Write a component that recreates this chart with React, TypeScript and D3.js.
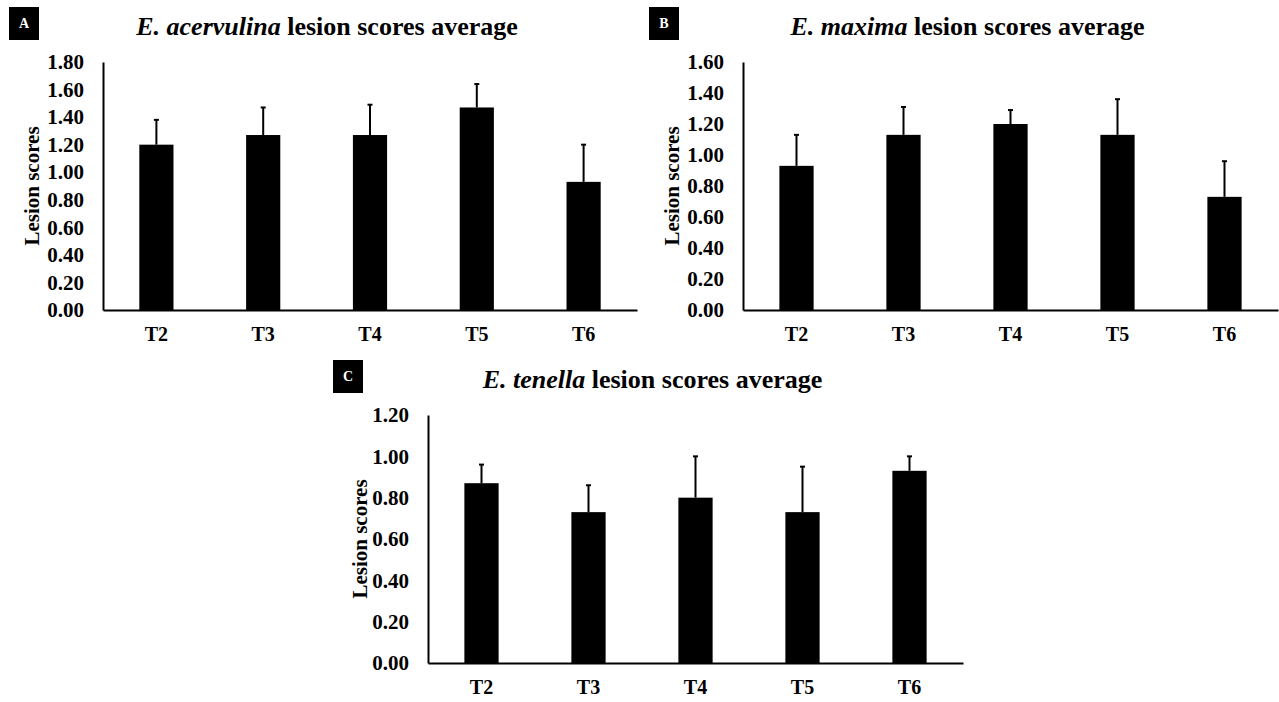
import React, { useRef, useEffect } from 'react';
import * as d3 from 'd3';

const categories = ['T2', 'T3', 'T4', 'T5', 'T6'];

const acervulinaMeans = [1.2, 1.27, 1.27, 1.47, 0.93];
const acervulinaErrors = [0.18, 0.2, 0.22, 0.17, 0.27];

const maximaMeans = [0.93, 1.13, 1.2, 1.13, 0.73];
const maximaErrors = [0.2, 0.18, 0.09, 0.23, 0.23];

const tenellaMeans = [0.87, 0.73, 0.8, 0.73, 0.93];
const tenellaErrors = [0.09, 0.13, 0.2, 0.22, 0.07];

const acervulinaTicks = [0, 0.2, 0.4, 0.6, 0.8, 1.0, 1.2, 1.4, 1.6, 1.8];
const maximaTicks = [0, 0.2, 0.4, 0.6, 0.8, 1.0, 1.2, 1.4, 1.6];
const tenellaTicks = [0, 0.2, 0.4, 0.6, 0.8, 1.0, 1.2];

const FONT = '"Liberation Serif", "Times New Roman", serif';

const panels = [
    { letter: 'A', species: 'E. acervulina', means: acervulinaMeans, errors: acervulinaErrors, ticks: acervulinaTicks,
      left: 103, right: 637, bottom: 310, top: 62, box: [9, 7], labelOffset: 64 },
    { letter: 'B', species: 'E. maxima', means: maximaMeans, errors: maximaErrors, ticks: maximaTicks,
      left: 743, right: 1278, bottom: 310, top: 62, box: [649, 7], labelOffset: 64 },
    { letter: 'C', species: 'E. tenella', means: tenellaMeans, errors: tenellaErrors, ticks: tenellaTicks,
      left: 428, right: 963, bottom: 663, top: 415, box: [333, 360], labelOffset: 61 },
];

const App = () => {
    const svgRef = useRef<SVGSVGElement>(null);

    useEffect(() => {
        const svg = d3.select(svgRef.current);
        svg.selectAll('*').remove();

        panels.forEach(p => {
            const g = svg.append('g');
            const data = categories.map((c, i) => ({ cat: c, mean: p.means[i], err: p.errors[i] }));

            const x = d3.scaleBand()
                .domain(categories)
                .range([p.left, p.right])
                .paddingInner(0.68)
                .paddingOuter(0.34);

            const y = d3.scaleLinear()
                .domain([0, d3.max(p.ticks)])
                .range([p.bottom, p.top]);

            // letter box
            g.append('rect')
                .attr('x', p.box[0])
                .attr('y', p.box[1])
                .attr('width', 30)
                .attr('height', 33)
                .attr('fill', '#000');
            g.append('text')
                .attr('x', p.box[0] + 15)
                .attr('y', p.box[1] + 21)
                .attr('text-anchor', 'middle')
                .attr('fill', '#fff')
                .style('font-family', FONT)
                .style('font-weight', 'bold')
                .style('font-size', '14px')
                .text(p.letter);

            // title
            const title = g.append('text')
                .attr('x', (p.left + p.right) / 2 - 43)
                .attr('y', p.top - 27)
                .attr('text-anchor', 'middle')
                .style('font-family', FONT)
                .style('font-weight', 'bold')
                .style('font-size', '26px');
            title.append('tspan').style('font-style', 'italic').text(p.species);
            title.append('tspan').text(' lesion scores average');

            // bars
            g.selectAll('.bar')
                .data(data)
                .enter().append('rect')
                .attr('x', d => x(d.cat))
                .attr('width', x.bandwidth())
                .attr('y', d => y(d.mean))
                .attr('height', d => y(0) - y(d.mean))
                .attr('fill', '#000');

            // error bars (upper only)
            const eb = g.selectAll('.err')
                .data(data)
                .enter().append('g');
            eb.append('line')
                .attr('x1', d => x(d.cat) + x.bandwidth() / 2)
                .attr('x2', d => x(d.cat) + x.bandwidth() / 2)
                .attr('y1', d => y(d.mean))
                .attr('y2', d => y(d.mean + d.err))
                .attr('stroke', '#000')
                .attr('stroke-width', 2);
            eb.append('line')
                .attr('x1', d => x(d.cat) + x.bandwidth() / 2 - 2.5)
                .attr('x2', d => x(d.cat) + x.bandwidth() / 2 + 2.5)
                .attr('y1', d => y(d.mean + d.err))
                .attr('y2', d => y(d.mean + d.err))
                .attr('stroke', '#000')
                .attr('stroke-width', 2);

            // y axis
            const yAxis = d3.axisLeft(y)
                .tickValues(p.ticks)
                .tickFormat(d3.format('.2f'))
                .tickSize(0)
                .tickPadding(19);
            const ya = g.append('g')
                .attr('transform', `translate(${p.left},0)`)
                .call(yAxis);
            ya.select('.domain').attr('stroke', '#000').attr('stroke-width', 2);
            ya.selectAll('text')
                .attr('fill', '#000')
                .style('font-family', FONT)
                .style('font-weight', 'bold')
                .style('font-size', '21px');

            // x axis
            const xAxis = d3.axisBottom(x).tickSize(0).tickPadding(17);
            const xa = g.append('g')
                .attr('transform', `translate(0,${p.bottom})`)
                .call(xAxis);
            xa.select('.domain').attr('stroke', '#000').attr('stroke-width', 2);
            xa.selectAll('text')
                .attr('fill', '#000')
                .style('font-family', FONT)
                .style('font-weight', 'bold')
                .style('font-size', '20px');

            // y label
            g.append('text')
                .attr('transform', `translate(${p.left - p.labelOffset},${(p.top + p.bottom) / 2}) rotate(-90)`)
                .attr('text-anchor', 'middle')
                .style('font-family', FONT)
                .style('font-weight', 'bold')
                .style('font-size', '21px')
                .text('Lesion scores');
        });
    }, []);

    return (
        <svg ref={svgRef} width={1279} height={702}
            style={{ position: 'absolute', left: 0, top: 0, background: '#fff' }}></svg>
    );
};

export default App;
